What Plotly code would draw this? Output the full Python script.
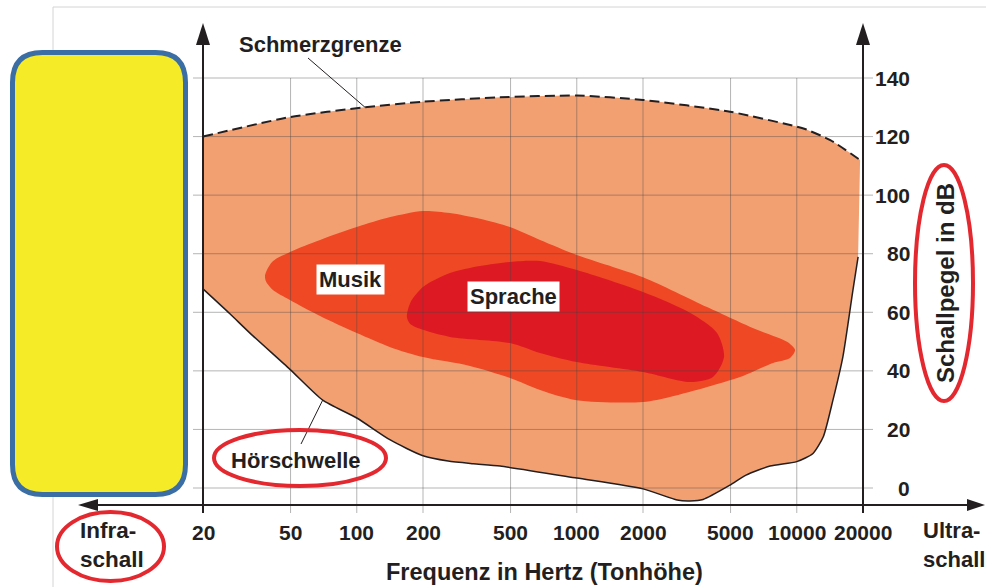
import numpy as np
import plotly.graph_objects as go

# ---- data ----
freq_ticks = [20, 50, 100, 200, 500, 1000, 2000, 5000, 10000, 20000]
freq_labels = ['20', '50', '100', '200', '500', '1000', '2000', '5000', '10000', '20000']
db_ticks = [0, 20, 40, 60, 80, 100, 120, 140]
db_labels = ['0', '20', '40', '60', '80', '100', '120', '140']

# Schmerzgrenze (upper limit)
schmerz_hz = [20, 50, 109, 200, 448, 1000, 2000, 4970, 10000, 10900, 14200, 19400]
schmerz_db = [120, 126.7, 130, 131.9, 133.4, 134, 132.5, 128.5, 123.4, 122.6, 118.8, 112]

# Hörschwelle (threshold of hearing)
hoer_hz = [20, 26.5, 32.7, 49.7, 70, 100, 142, 200, 260, 338, 448, 1000, 2000, 2860, 3270, 3750,
           4970, 5880, 7560, 10000, 11850, 13200, 14600, 16200, 18000, 19000]
hoer_db = [68, 59.5, 52.9, 40.5, 30, 23.9, 16.4, 11.0, 9.2, 8.3, 7.5, 3.4, -0.3, -4.1, -4.4, -3.9,
           1.0, 4.4, 7.5, 9.0, 11.8, 17.5, 30, 44.8, 67.6, 78.9]

# Musik region
musik_hz = [38.3, 41.2, 49.7, 68.1, 100, 142, 200, 265, 363, 497, 681, 1000, 2000, 3910,
            6600, 9030, 9820, 9320, 7800, 5520, 3910, 2650, 2000, 1000, 681, 497, 327,
            200, 142, 100, 68.1, 49.7, 41.2, 38.6, 38.3]
musik_db = [72.7, 77.2, 80.6, 84.7, 89.1, 92.5, 94.6, 93.9, 91.9, 89.1, 84.7, 79.6, 72.0, 61.8,
            54.0, 49.9, 47.1, 44.4, 42.7, 37.9, 34.5, 31.1, 29.4, 30.0, 33.5, 37.6, 41.7,
            44.7, 48.1, 52.9, 58.7, 64.2, 67.9, 70.7, 72.7]

# Sprache region
sprache_hz = [169, 175, 200, 265, 363, 497, 681, 1000, 2000, 3270, 4340, 4670, 4160, 3270,
              2000, 1000, 681, 497, 265, 200, 175, 169]
sprache_db = [58.4, 63.2, 68.6, 73.4, 75.8, 77.2, 77.5, 74.4, 66.9, 59.8, 52.9, 44.7, 37.9, 36.2,
              39.6, 43.0, 46.1, 49.5, 51.6, 54.0, 56.0, 58.4]

# ---- page geometry ----
W, H = 986, 587
FONT = 'Arial, Liberation Sans, sans-serif'
INK = '#231f20'
RED = '#e3282f'


def px(x):
    return x / W


def py(y):
    return 1 - y / H


# pixel calibration: 20 Hz at x=203, 220 px per decade; 0 dB at y=488, 140 dB at y=78
def to_hz(x):
    return 10 ** (np.log10(20) + (x - 203) / 220)


def to_db(y):
    return (488 - y) * 140 / 410


x_range = [np.log10(to_hz(0)), np.log10(to_hz(W))]
y_range = [to_db(H), to_db(0)]

fig = go.Figure()

# hearing area: between Schmerzgrenze and Hörschwelle (smoothed edges)
fig.add_trace(go.Scatter(x=schmerz_hz, y=schmerz_db, mode='lines',
                         line=dict(width=0, shape='spline', smoothing=0.6), hoverinfo='skip'))
fig.add_trace(go.Scatter(x=hoer_hz, y=hoer_db, mode='lines', fill='tonexty',
                         fillcolor='#f2a072',
                         line=dict(width=0, shape='spline', smoothing=0.6), hoverinfo='skip'))
fig.add_trace(go.Scatter(
    x=musik_hz, y=musik_db, fill='toself', fillcolor='#ee4824', mode='lines',
    line=dict(width=0, shape='spline', smoothing=0.8), hoverinfo='skip'))
fig.add_trace(go.Scatter(
    x=sprache_hz, y=sprache_db, fill='toself', fillcolor='#dd1923', mode='lines',
    line=dict(width=0, shape='spline', smoothing=0.8), hoverinfo='skip'))

# grid
gx, gy = [], []
for f in freq_ticks[1:-1]:
    gx += [f, f, None]
    gy += [to_db(513), 140, None]
for d in db_ticks:
    gx += [to_hz(193), to_hz(873), None]
    gy += [d, d, None]
fig.add_trace(go.Scatter(x=gx, y=gy, mode='lines',
                         line=dict(color='rgba(70,70,70,0.4)', width=1), hoverinfo='skip'))

# limit curves
fig.add_trace(go.Scatter(x=schmerz_hz, y=schmerz_db, mode='lines',
                         line=dict(color=INK, width=2, dash='10px,5px', shape='spline', smoothing=0.6),
                         hoverinfo='skip'))
fig.add_trace(go.Scatter(x=hoer_hz, y=hoer_db, mode='lines',
                         line=dict(color=INK, width=1.5, shape='spline', smoothing=0.6),
                         hoverinfo='skip'))

# axes with arrows
ax_x, ax_y = [], []
for f in (20, 20000):
    ax_x += [f, f, None]
    ax_y += [to_db(513), to_db(40), None]
ax_x += [to_hz(90), to_hz(975)]
ax_y += [to_db(505), to_db(505)]
fig.add_trace(go.Scatter(x=ax_x, y=ax_y, mode='lines',
                         line=dict(color=INK, width=2), hoverinfo='skip'))

# leader lines
fig.add_trace(go.Scatter(x=[to_hz(308), 109, None, to_hz(301), 70],
                         y=[to_db(58), 130, None, to_db(444), 30], mode='lines',
                         line=dict(color=INK, width=1), hoverinfo='skip'))

shapes = []


def tri(pts):
    d = 'M ' + ' L '.join(f'{px(a):.5f},{py(b):.5f}' for a, b in pts) + ' Z'
    return dict(type='path', xref='paper', yref='paper', path=d,
                fillcolor=INK, line=dict(width=0), layer='above')


for xa in (203, 863):
    shapes.append(tri([(xa, 23), (xa - 7, 45), (xa + 7, 45)]))
shapes.append(tri([(985, 505), (967, 499), (967, 511)]))
shapes.append(tri([(78, 505), (98, 499), (98, 511)]))

# page frame
shapes.append(dict(type='path', xref='paper', yref='paper', layer='below',
                   path=f'M {px(53)},{py(H)} L {px(53)},{py(7)} L {px(W)},{py(7)}',
                   line=dict(color='#d4d4d4', width=1)))

# yellow box with rounded corners
x0, x1, y0, y1, r = 12.5, 185.5, 52.5, 494.5, 30
box = (f'M {px(x0 + r)},{py(y0)} L {px(x1 - r)},{py(y0)} Q {px(x1)},{py(y0)} {px(x1)},{py(y0 + r)} '
       f'L {px(x1)},{py(y1 - r)} Q {px(x1)},{py(y1)} {px(x1 - r)},{py(y1)} '
       f'L {px(x0 + r)},{py(y1)} Q {px(x0)},{py(y1)} {px(x0)},{py(y1 - r)} '
       f'L {px(x0)},{py(y0 + r)} Q {px(x0)},{py(y0)} {px(x0 + r)},{py(y0)} Z')
shapes.append(dict(type='path', xref='paper', yref='paper', path=box, layer='above',
                   fillcolor='#f6eb27', line=dict(color='#3a6ea5', width=5)))

# red ellipses
for ex0, ey0, ex1, ey1 in [(214, 430, 386, 486), (57, 512, 164, 581), (915, 165, 973, 401)]:
    shapes.append(dict(type='circle', xref='paper', yref='paper', layer='above',
                       x0=px(ex0), x1=px(ex1), y0=py(ey1), y1=py(ey0),
                       line=dict(color=RED, width=4)))

ann = []


def font(size):
    return dict(family=FONT, size=size, color=INK, weight='bold')


for f, lab in zip(freq_ticks, freq_labels):
    ann.append(dict(x=np.log10(f), y=py(532), xref='x', yref='paper', text=lab,
                    showarrow=False, font=font(21), xanchor='center', yanchor='middle'))
for d, lab in zip(db_ticks, db_labels):
    ann.append(dict(x=px(912), y=d, xref='paper', yref='y', text=lab,
                    showarrow=False, font=font(21), xanchor='right', yanchor='middle'))


def label(text, x, y, size=22, xanchor='center', **kw):
    ann.append(dict(x=px(x), y=py(y), xref='paper', yref='paper', text=text,
                    showarrow=False, font=font(size), xanchor=xanchor,
                    yanchor='middle', **kw))


label('Schmerzgrenze', 320, 45)
label('Hörschwelle', 296, 460)
label('Musik', 350.5, 279, bgcolor='white', borderpad=2)
label('Sprache', 513.5, 297, bgcolor='white', borderpad=2)
label('Frequenz in Hertz (Tonhöhe)', 544, 572, size=23.5)
label('Infra-<br>schall', 78, 545, size=22.5, xanchor='left', align='left')
label('Ultra-<br>schall', 921, 545, size=22, xanchor='left', align='left')
label('Schallpegel in dB', 945, 283, size=24, textangle=-90)

fig.update_layout(
    width=W, height=H, margin=dict(l=0, r=0, t=0, b=0),
    paper_bgcolor='white', plot_bgcolor='white', showlegend=False,
    xaxis=dict(type='log', range=x_range, visible=False, fixedrange=True),
    yaxis=dict(range=y_range, visible=False, fixedrange=True),
    shapes=shapes, annotations=ann,
)

fig.write_html('out.html', config={'displayModeBar': False},
               post_script="document.body.style.margin='0';document.body.style.overflow='hidden';")
